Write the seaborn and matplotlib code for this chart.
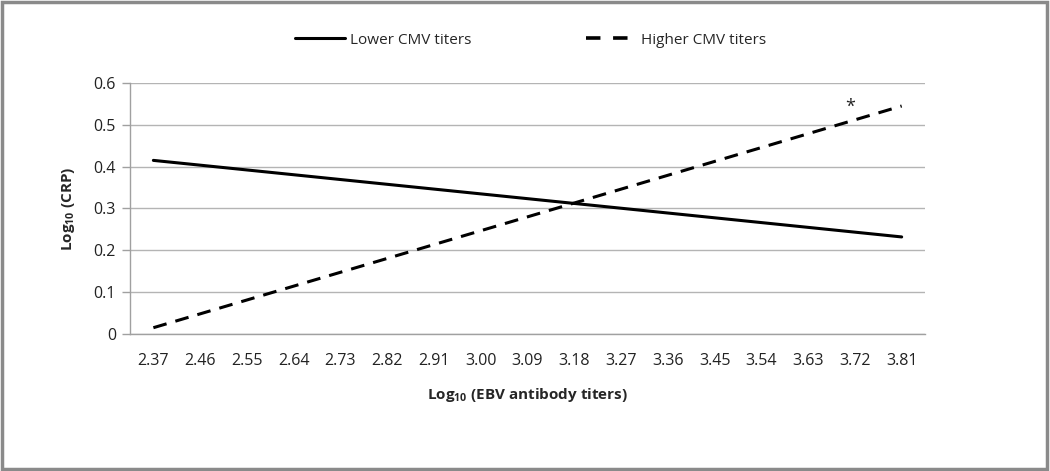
import matplotlib
matplotlib.use("Agg")
import matplotlib.pyplot as plt
import seaborn as sns
import pandas as pd
from matplotlib.patches import Rectangle
from matplotlib.lines import Line2D

# --- data ---
TICK_LABELS = ["2.37", "2.46", "2.55", "2.64", "2.73", "2.82", "2.91", "3.00", "3.09",
               "3.18", "3.27", "3.36", "3.45", "3.54", "3.63", "3.72", "3.81"]
EBV_ENDS = [2.37, 3.81]
LOWER_CMV = [0.415, 0.232]
HIGHER_CMV = [0.015, 0.545]
SERIES = ["Lower CMV titers", "Higher CMV titers"]
STAR_X, STAR_Y = 3.72, 0.522

df = pd.DataFrame({
    "ebv": EBV_ENDS * 2,
    "crp": LOWER_CMV + HIGHER_CMV,
    "group": [SERIES[0]] * 2 + [SERIES[1]] * 2,
})

sns.set_style("white")
plt.rcParams["font.family"] = ["Open Sans", "DejaVu Sans"]
plt.rcParams["mathtext.default"] = "regular"

fig = plt.figure(figsize=(10.5, 4.71), dpi=100)
ax = fig.add_axes([0.1238, 0.2909, 0.7572, 0.5329])

sns.lineplot(data=df, x="ebv", y="crp", hue="group", style="group",
             palette=["black", "black"], dashes=[(None, None), (4.5, 3)],
             linewidth=2.2, ax=ax, legend=False)

tick_pos = [float(t) for t in TICK_LABELS]
ax.set_xticks(tick_pos)
ax.set_xticklabels(TICK_LABELS, fontsize=11.5, color="#222222")
ax.set_xlim(tick_pos[0] - 0.045, tick_pos[-1] + 0.045)
ax.set_ylim(0, 0.6)
ax.set_yticks([0, 0.1, 0.2, 0.3, 0.4, 0.5, 0.6])
ax.set_yticklabels(["0", "0.1", "0.2", "0.3", "0.4", "0.5", "0.6"], fontsize=11.5, color="#222222")
ax.tick_params(axis="x", length=0, pad=14)
ax.tick_params(axis="y", length=6, width=1, color="#a0a0a0", pad=4, left=True)
ax.yaxis.grid(True, color="#b4b4b4", linewidth=1)
ax.xaxis.grid(False)
for s in ["top", "right"]:
    ax.spines[s].set_visible(False)
for s in ["left", "bottom"]:
    ax.spines[s].set_color("#a0a0a0")
    ax.spines[s].set_linewidth(1)

ax.set_xlabel("Log$_{10}$ (EBV antibody titers)", fontsize=11, fontweight="bold", labelpad=12)
ax.set_ylabel("Log$_{10}$ (CRP)", fontsize=11, fontweight="bold", labelpad=12)

ax.text(STAR_X - 0.01, STAR_Y, "*", fontsize=13, ha="center", va="bottom", color="#222222")

# legend at the top
handles = [Line2D([], [], color="black", lw=2.2),
           Line2D([], [], color="black", lw=2.6, dashes=(4, 3.5))]
fig.legend(handles, SERIES, loc="center", bbox_to_anchor=(0.505, 0.915), ncol=2,
           frameon=False, fontsize=11, columnspacing=7.5, handlelength=3.3, handletextpad=0.3)

# outer frame
fig.patches.append(Rectangle((0.002, 0.004), 0.995, 0.992, transform=fig.transFigure,
                             fill=False, edgecolor="#8a8a8a", linewidth=2.5))

fig.savefig("out.png", dpi=100)
